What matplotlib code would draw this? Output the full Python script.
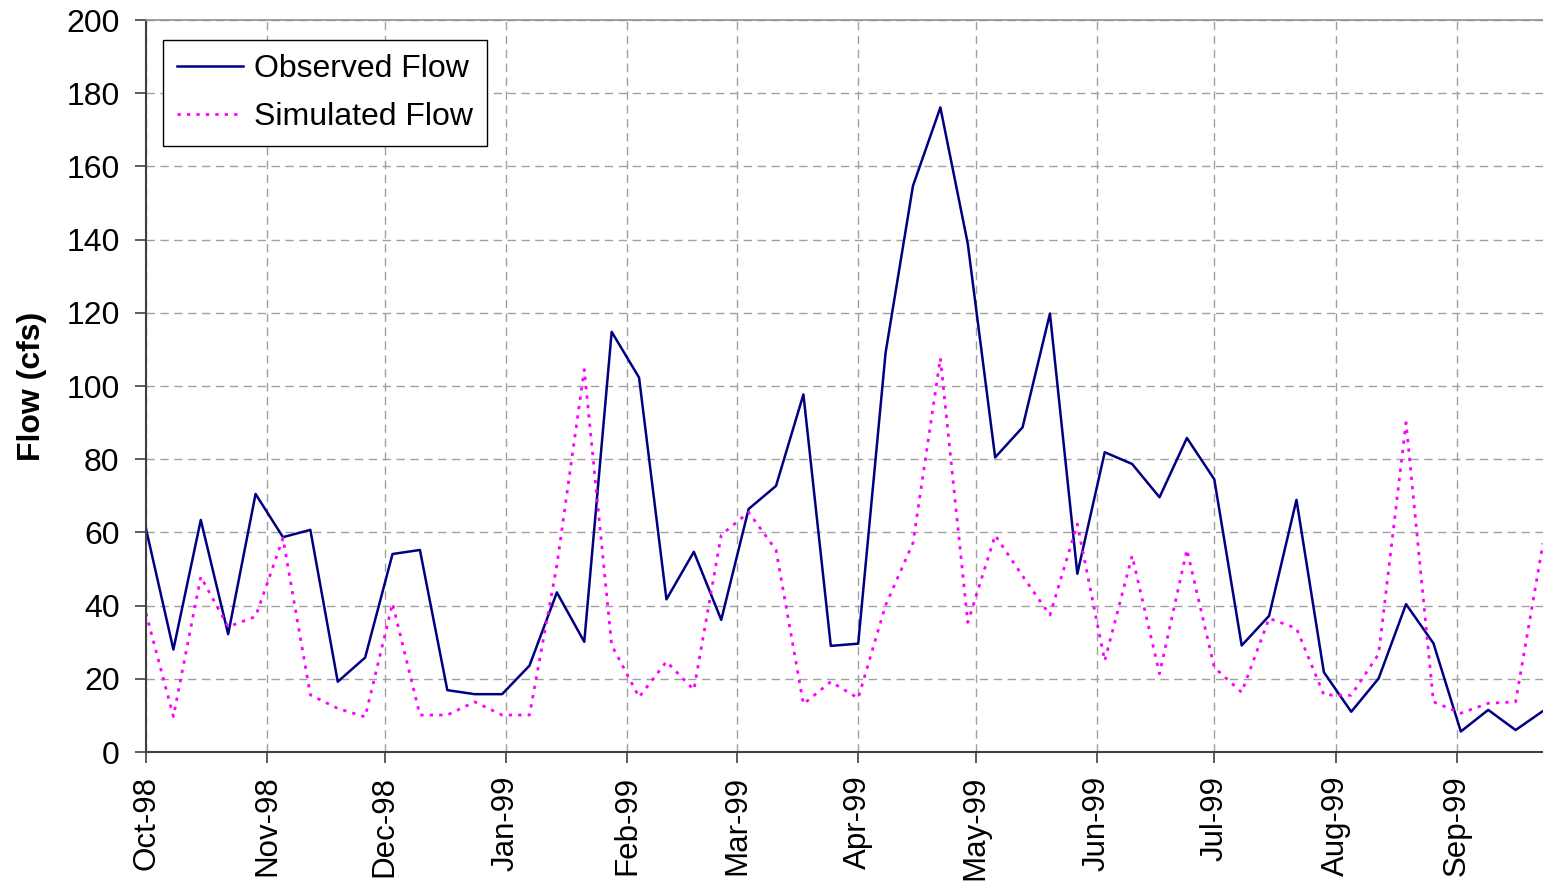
import pandas as pd
import matplotlib
matplotlib.use('Agg')
import matplotlib.pyplot as plt
import matplotlib.dates as mdates

# weekly flow values (cfs)
start_date = '1998-10-01'
n_weeks = 52

observed = [61, 28, 63.4, 32.2, 70.5, 58.7, 60.7, 19.2, 25.8, 54.1,
            55.2, 16.9, 15.8, 15.8, 23.6, 43.6, 30.1, 114.8, 102.3, 41.7,
            54.7, 36.1, 66.4, 72.7, 97.7, 29.0, 29.6, 109.1, 154.7, 176.1,
            138.9, 80.5, 88.7, 119.8, 48.7, 81.9, 78.7, 69.6, 85.8, 74.5,
            29.1, 37.2, 68.9, 21.8, 11.0, 20.1, 40.4, 29.7, 5.6, 11.5,
            6.0, 11.2]

simulated = [37.9, 9.7, 47.9, 34.2, 37.0, 58.4, 15.6, 11.9, 9.6, 40.6,
             10.1, 10.1, 13.7, 10.1, 10.1, 51, 104.5, 29.2, 15, 24.7,
             17, 59.3, 65.5, 55.2, 13.1, 19.2, 14.7, 40.1, 57.1, 107.6,
             35.4, 59.2, 48.1, 37.4, 62.3, 24.9, 53.6, 21.4, 55.3, 23.1,
             16.3, 36.5, 33.8, 15.6, 15.5, 26.8, 90, 13.7, 10.6, 13.3,
             13.7, 57]

dates = pd.date_range(start_date, periods=n_weeks, freq='7D')

plt.rcParams['font.family'] = ['Liberation Sans', 'DejaVu Sans']

fig = plt.figure(figsize=(15.43, 8.84), dpi=100)
ax = fig.add_axes([146 / 1543, 1 - 752 / 884, 1397 / 1543, 732 / 884])

ax.plot(dates, observed, color='#000080', linewidth=1.8, label='Observed Flow')
ax.plot(dates, simulated, color='#FF00FF', linewidth=2.0,
        linestyle=(0, (1.2, 2.2)), label='Simulated Flow')

ax.set_xlim(dates[0], dates[-1])
ax.set_ylim(0, 200)
ax.set_yticks(range(0, 201, 20))

ax.xaxis.set_major_locator(mdates.MonthLocator())
ax.xaxis.set_major_formatter(mdates.DateFormatter('%b-%y'))

ax.grid(True, color='#A0A0A0', linestyle=(0, (6, 4)), linewidth=1)
ax.set_axisbelow(True)

for side in ['left', 'bottom']:
    ax.spines[side].set_color('#404040')
    ax.spines[side].set_linewidth(1.5)
ax.spines['top'].set_color('#909090')
ax.spines['top'].set_linewidth(1.2)
ax.spines['right'].set_visible(False)

ax.tick_params(axis='y', labelsize=23, length=8, width=1.2, color='#404040', pad=11)
ax.tick_params(axis='x', labelsize=22.5, length=8, width=1.2, color='#404040',
               pad=9, labelrotation=90)

ax.set_ylabel('Flow (cfs)', fontsize=23, fontweight='bold', labelpad=14)

leg = ax.legend(loc='upper left', bbox_to_anchor=(0.012, 0.973), borderaxespad=0,
                fontsize=23, handlelength=2.05, handletextpad=0.35,
                fancybox=False, framealpha=1, edgecolor='black',
                borderpad=0.45, labelspacing=0.55)
leg.get_frame().set_linewidth(1.0)

fig.savefig('out.png', dpi=100)
